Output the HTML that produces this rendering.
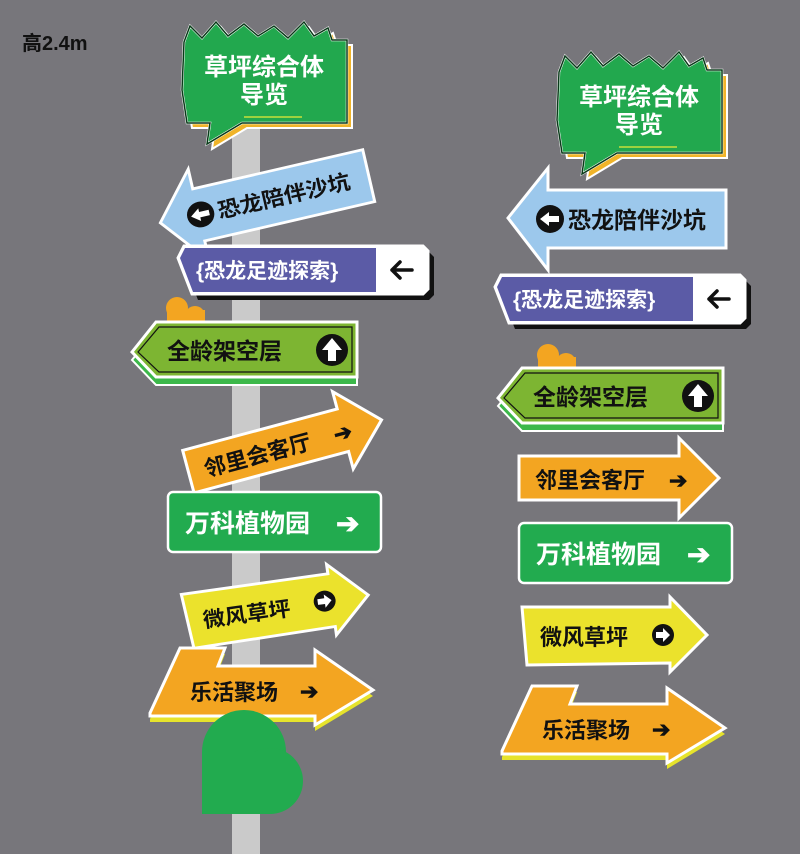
<!DOCTYPE html>
<html><head><meta charset="utf-8"><style>
html,body{margin:0;padding:0;background:#77767b;}
svg{display:block}
text{font-family:"Liberation Sans","Noto Sans CJK SC",sans-serif;font-weight:bold;}
</style></head><body>
<svg width="800" height="854" viewBox="0 0 800 854" xmlns="http://www.w3.org/2000/svg">
<defs>
<g id="bubble">
 <polygon transform="translate(5,5)" fill="#f0b429" stroke="#fff" stroke-width="2" points="2,22 8,6 20,18 34,2 46,16 62,4 76,16 92,6 106,18 122,2 132,16 146,8 150,20 165,20 165,103 60,103 25,124 28,103 5,103 0,70"/>
 <polygon fill="#22a84e" stroke="#fff" stroke-width="2.5" points="2,22 8,6 20,18 34,2 46,16 62,4 76,16 92,6 106,18 122,2 132,16 146,8 150,20 165,20 165,103 60,103 25,124 28,103 5,103 0,70"/>
 <polygon fill="none" stroke="#0a3a1a" stroke-width="1.5" points="2,22 8,6 20,18 34,2 46,16 62,4 76,16 92,6 106,18 122,2 132,16 146,8 150,20 165,20 165,103 60,103 25,124 28,103 5,103 0,70"/>
 <line x1="62" y1="97" x2="120" y2="97" stroke="#c8e03a" stroke-width="1.5"/>
 <text x="82" y="55" font-size="24" fill="#fff" text-anchor="middle">草坪综合体</text>
 <text x="82" y="83" font-size="24" fill="#fff" text-anchor="middle">导览</text>
</g>
<g id="blue">
 <polygon fill="#9cc8ec" stroke="#fff" stroke-width="3" points="0,50 40,0 40,22 218,22 218,80 40,80 40,102"/>
 <circle cx="42" cy="51" r="14" fill="#111"/>
 <polygon fill="#fff" points="32,51 41,44 41,48 51,48 51,54 41,54 41,58"/>
 <text x="60" y="60" font-size="23" fill="#111">恐龙陪伴沙坑</text>
</g>
<g id="purple">
 <polygon transform="translate(6,6)" fill="#111" points="6,0 245,0 250,5 250,43 245,48 14,48 0,12"/>
 <polygon fill="#fff" stroke="#fff" stroke-width="3" points="6,0 245,0 250,5 250,43 245,48 14,48 0,12"/>
 <polygon fill="#5b5ba6" points="7,2 198,2 198,46 15,46 2,12"/>
 <text x="18" y="32" font-size="21" fill="#fff">{恐龙足迹探索}</text>
 <path d="M234,24 H214 M222,16 L214,24 L222,32" fill="none" stroke="#111" stroke-width="3.5" stroke-linecap="round" stroke-linejoin="round"/>
</g>
<g id="garrow">
 <polygon transform="translate(0,8)" fill="#3cb84a" stroke="#fff" stroke-width="2" points="0,30 24,0 225,0 225,55 24,55"/>
 <polygon fill="#7db532" stroke="#fff" stroke-width="3" points="0,30 24,0 225,0 225,55 24,55"/>
 <polygon fill="none" stroke="#111" stroke-width="1.2" points="6,30 27,5 220,5 220,50 27,50"/>
 <text x="35" y="37" font-size="23" fill="#111">全龄架空层</text>
 <circle cx="200" cy="28" r="16" fill="#111"/>
 <polygon fill="#fff" points="200,16 210,28 204,28 204,39 196,39 196,28 190,28"/>
</g>
<g id="oarrow">
 <polygon fill="#f3a521" stroke="#fff" stroke-width="3" points="0,18 160,18 160,0 200,40 160,80 160,62 0,62"/>
 <text x="16" y="50" font-size="22" fill="#111">邻里会客厅</text>
 <text x="150" y="50" font-size="22" fill="#111">➔</text>
</g>
<g id="grect">
 <rect x="0" y="0" width="213" height="60" rx="5" fill="#22ab4f" stroke="#fff" stroke-width="2.5"/>
 <text x="17" y="40" font-size="25" fill="#fff">万科植物园</text>
 <text x="168" y="41" font-size="28" fill="#fff">➔</text>
</g>
<g id="yarrow">
 <polygon fill="#ebe22c" stroke="#fff" stroke-width="3" points="0,10 148,10 148,0 185,38 148,75 148,66 5,68"/>
 <text x="18" y="48" font-size="22" fill="#111">微风草坪</text>
 <circle cx="141" cy="38" r="11" fill="#111"/>
 <polygon fill="#fff" points="134,35 141,35 141,31 148,38 141,45 141,41 134,41"/>
</g>
<g id="lehuo">
 <polygon transform="translate(0,6)" fill="#e6e32c" points="0,65 30,0 75,0 68,18 165,18 165,2 223,42 165,77 165,68 0,68"/>
 <polygon fill="#f3a521" stroke="#fff" stroke-width="3" points="0,65 30,0 75,0 68,18 165,18 165,2 223,42 165,77 165,68 0,68"/>
 <text x="40" y="52" font-size="22" fill="#111">乐活聚场</text>
 <text x="150" y="51" font-size="22" fill="#111">➔</text>
</g>
<g id="blob">
 <circle cx="12" cy="12" r="11" fill="#f3a521"/>
 <circle cx="30" cy="20" r="10" fill="#f3a521"/>
 <rect x="2" y="14" width="38" height="14" fill="#f3a521"/>
</g>
</defs>

<text x="22" y="50" font-size="20" fill="#111" font-weight="normal">高2.4m</text>

<rect x="232" y="120" width="28" height="734" fill="#cacaca"/>

<use href="#bubble" x="182" y="20"/>
<use href="#blue" transform="translate(150,178) rotate(-13) scale(0.98,0.92)"/>
<use href="#purple" x="178" y="246"/>
<use href="#blob" x="165" y="296"/>
<use href="#garrow" x="132" y="322"/>
<use href="#oarrow" transform="translate(178,433) rotate(-15)"/>
<use href="#grect" x="168" y="492"/>
<use href="#yarrow" transform="translate(180,585) rotate(-8) scale(1,0.95)"/>
<use href="#lehuo" x="150" y="648"/>
<circle cx="244" cy="752" r="42" fill="#22ab4f"/>
<circle cx="270" cy="781" r="33" fill="#22ab4f"/>
<rect x="202" y="752" width="70" height="62" fill="#22ab4f"/>

<use href="#bubble" x="557" y="50"/>
<use href="#blue" x="508" y="168"/>
<use href="#purple" x="495" y="275"/>
<use href="#blob" x="536" y="343"/>
<use href="#garrow" x="498" y="368"/>
<use href="#oarrow" x="519" y="438"/>
<use href="#grect" x="519" y="523"/>
<use href="#yarrow" x="522" y="597"/>
<use href="#lehuo" x="502" y="686"/>
</svg>
</body></html>
